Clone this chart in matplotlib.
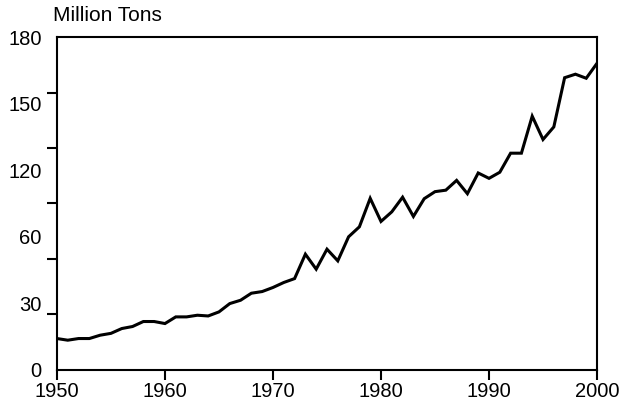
import numpy as np
import matplotlib
matplotlib.use('Agg')
import matplotlib.pyplot as plt

years = list(range(1950, 2001))
tons = [17.0, 16.1, 17.0, 17.0, 18.8, 19.8, 22.4, 23.5, 26.2, 26.2,
        25.1, 28.7, 28.7, 29.6, 29.2, 31.4, 35.9, 37.7, 41.5, 42.4,
        44.6, 47.3, 49.4, 62.6, 54.5, 65.3, 59.0, 72.0, 77.4, 92.8,
        80.3, 85.5, 93.4, 83.0, 92.6, 96.4, 97.2, 102.5, 95.3, 106.5,
        103.6, 106.9, 117.2, 117.2, 137.2, 124.6, 131.4, 158.0, 159.9, 157.7,
        165.8]

# the source chart prints six labels spread evenly over seven tick marks
ytick_marks = [0, 30, 60, 90, 120, 150, 180]
ytick_labels = ['0', '30', '60', '120', '150', '180']
xticks = [1950, 1960, 1970, 1980, 1990, 2000]

plt.rcParams['font.family'] = ['Liberation Sans', 'DejaVu Sans']

fig = plt.figure(figsize=(6.19, 4.09), dpi=100)
ax = fig.add_axes([0.092, 0.0954, 0.8725, 0.8141])

ax.plot(years, tons, color='black', lw=2.2, solid_joinstyle='miter')

ax.set_xlim(1950, 2000)
ax.set_ylim(0, 180)

ax.set_xticks(xticks)
ax.set_xticklabels([str(x) for x in xticks], fontsize=14.5)
ax.tick_params(axis='x', length=7, width=1.5, pad=2, direction='out')

ax.set_yticks(np.linspace(0, 180, len(ytick_labels)))
ax.set_yticklabels(ytick_labels, fontsize=14.5)
ax.set_yticks(ytick_marks, minor=True)
ax.tick_params(axis='y', which='major', length=0, pad=11)
ax.tick_params(axis='y', which='minor', length=7, width=1.5, direction='out')

for s in ax.spines.values():
    s.set_linewidth(1.5)

fig.text(0.086, 0.962, 'Million Tons', fontsize=15, ha='left', va='center')

fig.savefig('out.png', dpi=100)
